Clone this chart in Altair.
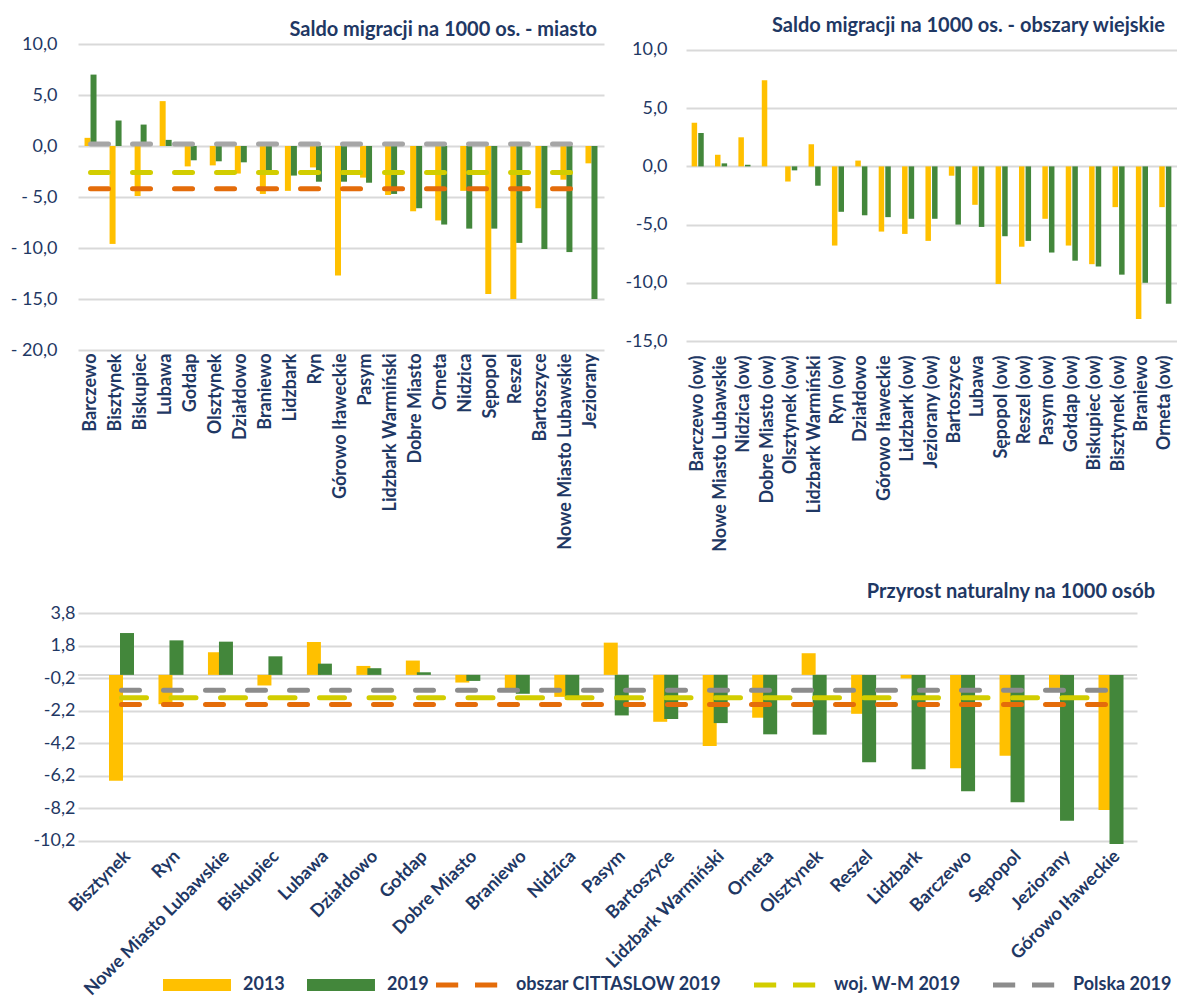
import altair as alt
import pandas as pd

NAVY = "#1F3864"
FONT = "Lato"
C2013 = "#FFC000"
C2019 = "#43873B"
CORANGE = "#E46C0A"
CYG = "#D2CD00"
CGRAY_T = "#A6A6A6"
CGRAY_B = "#8C8C8C"
GRID = "#D9D9D9"

# ---------------- data: Saldo migracji - miasto ----------------
cats_m = ["Barczewo", "Bisztynek", "Biskupiec", "Lubawa", "Gołdap", "Olsztynek",
          "Działdowo", "Braniewo", "Lidzbark", "Ryn", "Górowo Iławeckie", "Pasym",
          "Lidzbark Warmiński", "Dobre Miasto", "Orneta", "Nidzica", "Sępopol",
          "Reszel", "Bartoszyce", "Nowe Miasto Lubawskie", "Jeziorany"]
m2013 = [0.8, -9.6, -4.9, 4.4, -2.0, -1.9, -2.7, -4.7, -4.4, -2.1, -12.7, -3.1,
         -4.8, -6.4, -7.3, -4.4, -14.5, -15.0, -6.1, -3.3, -1.7]
m2019 = [7.0, 2.5, 2.1, 0.6, -1.4, -1.5, -1.6, -2.5, -2.9, -3.5, -3.5, -3.6,
         -4.7, -6.1, -7.7, -8.1, -8.1, -9.5, -10.1, -10.4, -15.0]
m_ref_names = ["obszar CITTASLOW 2019", "woj. W-M 2019", "Polska 2019"]
m_ref_vals = [-4.2, -2.6, 0.2]

# ---------------- data: Saldo migracji - obszary wiejskie ----------------
cats_w = ["Barczewo (ow)", "Nowe Miasto Lubawskie", "Nidzica (ow)", "Dobre Miasto (ow)",
          "Olsztynek (ow)", "Lidzbark Warmiński", "Ryn (ow)", "Działdowo",
          "Górowo Iławeckie", "Lidzbark (ow)", "Jeziorany (ow)", "Bartoszyce", "Lubawa",
          "Sępopol (ow)", "Reszel (ow)", "Pasym (ow)", "Gołdap (ow)", "Biskupiec (ow)",
          "Bisztynek (ow)", "Braniewo", "Orneta (ow)"]
w2013 = [3.75, 1.0, 2.5, 7.4, -1.3, 1.9, -6.8, 0.5, -5.6, -5.8, -6.4, -0.8, -3.3,
         -10.1, -6.9, -4.5, -6.8, -8.4, -3.5, -13.1, -3.5]
w2019 = [2.87, 0.26, 0.14, 0.0, -0.34, -1.66, -3.9, -4.2, -4.36, -4.5, -4.5, -5.0,
         -5.2, -6.0, -6.4, -7.4, -8.1, -8.6, -9.3, -10.0, -11.8]

# ---------------- data: Przyrost naturalny ----------------
cats_p = ["Bisztynek", "Ryn", "Nowe Miasto Lubawskie", "Biskupiec", "Lubawa", "Działdowo",
          "Gołdap", "Dobre Miasto", "Braniewo", "Nidzica", "Pasym", "Bartoszyce",
          "Lidzbark Warmiński", "Orneta", "Olsztynek", "Reszel", "Lidzbark", "Barczewo",
          "Sępopol", "Jeziorany", "Górowo Iławeckie"]
p2013 = [-6.5, -1.8, 1.39, -0.65, 2.02, 0.55, 0.88, -0.47, -1.0, -1.35, 1.98, -2.88,
         -4.37, -2.63, 1.33, -2.39, -0.22, -5.73, -4.96, -0.8, -8.29]
p2019 = [2.57, 2.12, 2.04, 1.14, 0.69, 0.41, 0.16, -0.37, -1.16, -1.4, -2.49, -2.71,
         -2.96, -3.65, -3.67, -5.37, -5.8, -7.14, -7.82, -8.96, -10.39]
p_ref_names = ["obszar CITTASLOW 2019", "woj. W-M 2019", "Polska 2019"]
p_ref_vals = [-1.82, -1.41, -0.94]
p_ticks = [3.8, 1.8, -0.2, -2.2, -4.2, -6.2, -8.2, -10.2]

YEARS = ["2013", "2019"]


def bars_df(cats, v13, v19):
    rows = []
    for c, a, b in zip(cats, v13, v19):
        rows.append({"cat": c, "series": "2013", "value": a})
        rows.append({"cat": c, "series": "2019", "value": b})
    return pd.DataFrame(rows)


def ref_df(cats, names, vals):
    rows = []
    for n, v in zip(names, vals):
        for c in cats:
            rows.append({"cat": c, "series": n, "value": v})
    return pd.DataFrame(rows)


def label_expr(spaced):
    sign = "'- '" if spaced else "'-'"
    return ("(datum.value < 0 ? " + sign + " : '') + "
            "replace(format(abs(datum.value), '.1f'), '.', ',')")


def x_enc(cats, angle, pad, outer=0.0, align=0.5):
    ax = dict(title=None, labelAngle=angle, domain=False, ticks=False, grid=False,
              labelFont=FONT, labelFontWeight="bold", labelFontSize=18,
              labelColor=NAVY, labelPadding=pad, labelLimit=500, labelOverlap=False)
    if angle == -45:
        ax["labelAlign"] = "right"
        ax["labelBaseline"] = "top"
    return alt.X("cat:N",
                 scale=alt.Scale(domain=cats, paddingInner=0, paddingOuter=outer,
                                 align=align),
                 axis=alt.Axis(**ax))


def y_enc(domain, values, spaced, pad, extent):
    return alt.Y("value:Q",
                 scale=alt.Scale(domain=domain, nice=False, zero=False),
                 axis=alt.Axis(title=None, values=values, tickCount=len(values) + 4,
                               labelExpr=label_expr(spaced),
                               grid=True, gridColor=GRID, gridWidth=2, domain=False,
                               ticks=False, labelFont=FONT, labelFontSize=18,
                               labelColor=NAVY, labelPadding=pad, labelOverlap=False,
                               minExtent=extent, maxExtent=extent))


def title(text, dx, offset):
    return alt.TitleParams(text, anchor="end", frame="group", font=FONT, fontSize=20,
                           fontWeight="bold", color=NAVY, dx=dx, offset=offset)


# ---------------- top-left ----------------
dm = bars_df(cats_m, m2013, m2019)
xm = x_enc(cats_m, -90, 3)
ym = y_enc([-20, 10], [-20, -15, -10, -5, 0, 5, 10], True, 21, 70)
tl_b13 = alt.Chart(dm).transform_filter(alt.datum.series == "2013").mark_bar(
    width=6, xOffset=-3, color=C2013).encode(x=xm, y=ym)
tl_b19 = alt.Chart(dm).transform_filter(alt.datum.series == "2019").mark_bar(
    width=6, xOffset=3, color=C2019).encode(x=xm, y=ym)
tl_lines = alt.Chart(ref_df(cats_m, m_ref_names, m_ref_vals)).mark_line(
    strokeWidth=5, strokeCap="round", strokeDash=[18, 24]).encode(
    x=xm, y=ym,
    stroke=alt.Stroke("series:N", scale=alt.Scale(domain=m_ref_names,
                                                  range=[CORANGE, CYG, CGRAY_T]),
                      legend=None),
    detail="series:N")
top_left = alt.layer(tl_b13, tl_b19, tl_lines).properties(
    width=526, height=306,
    title=title("Saldo migracji na 1000 os. - miasto", -7, -5))

# ---------------- top-right ----------------
dw = bars_df(cats_w, w2013, w2019)
xw = x_enc(cats_w, -90, 14)
yw = y_enc([-15, 10.515], [-15, -10, -5, 0, 5, 10], False, 19, 82)
tr_b13 = alt.Chart(dw).transform_filter(alt.datum.series == "2013").mark_bar(
    width=5.5, xOffset=-3.3, color=C2013).encode(x=xw, y=yw)
tr_b19 = alt.Chart(dw).transform_filter(alt.datum.series == "2019").mark_bar(
    width=5.5, xOffset=3.3, color=C2019).encode(x=xw, y=yw)
top_right = alt.layer(tr_b13, tr_b19).properties(
    width=491, height=297,
    title=title("Saldo migracji na 1000 os. - obszary wiejskie", -12, 5))

# ---------------- bottom ----------------
dp = bars_df(cats_p, p2013, p2019)
xp = x_enc(cats_p, -45, 6, outer=0.2024, align=0.937)
yp = y_enc([-10.20001, 3.80001], p_ticks, False, 3, 70)

bar_legend = alt.Legend(
    title=None, orient="none", legendX=82, legendY=363, direction="horizontal",
    symbolType="M-1,-1H10.33V1H-1Z", symbolSize=144, symbolStrokeWidth=0,
    labelFont=FONT, labelFontSize=18, labelFontWeight="bold", labelColor=NAVY,
    labelOffset=65, columnPadding=19, padding=0, labelLimit=400)

line_legend = alt.Legend(
    title=None, orient="none", legendX=352, legendY=363, direction="horizontal",
    symbolType="M-0.5,0H3.2M6,0H9.7", symbolSize=144, symbolStrokeWidth=5,
    symbolFillColor="transparent",
    labelFont=FONT, labelFontSize=18, labelFontWeight="bold", labelColor=NAVY,
    labelOffset=68, columnPadding=22, padding=0, labelLimit=400)

fill_p = alt.Color("series:N", scale=alt.Scale(domain=YEARS, range=[C2013, C2019]),
                   legend=bar_legend)
stroke_p = alt.Stroke("series:N",
                      scale=alt.Scale(domain=p_ref_names, range=[CORANGE, CYG, CGRAY_B]),
                      legend=line_legend)

b_b13 = alt.Chart(dp).transform_filter(alt.datum.series == "2013").mark_bar(
    width=14, xOffset=-5.5).encode(x=xp, y=yp, color=fill_p)
b_b19 = alt.Chart(dp).transform_filter(alt.datum.series == "2019").mark_bar(
    width=14, xOffset=5.5).encode(x=xp, y=yp, color=fill_p)
b_zero = alt.Chart(dp).mark_rule(color=GRID, strokeWidth=2).encode(y=alt.datum(0))
b_lines = alt.Chart(ref_df(cats_p, p_ref_names, p_ref_vals)).mark_line(
    strokeWidth=5, strokeCap="round").encode(
    x=xp, y=yp, stroke=stroke_p,
    strokeDash=alt.StrokeDash("series:N",
                              scale=alt.Scale(domain=p_ref_names,
                                              range=[[18, 24], [25, 24.5], [18, 24]]),
                              legend=None),
    detail="series:N")
bottom = alt.layer(b_zero, b_b13, b_b19, b_lines).properties(
    width=1059, height=228,
    title=title("Przyrost naturalny na 1000 osób", 18, 2))

top = alt.hconcat(top_left, top_right, spacing=0).resolve_scale(
    color="independent", stroke="independent")
chart = alt.vconcat(top, bottom, spacing=30).resolve_scale(
    color="independent", stroke="independent").properties(
    padding={"left": 0, "top": 7, "right": 0, "bottom": 0}
).configure(font=FONT).configure_view(stroke=None)

chart.save("out.html", embed_options={"renderer": "svg", "actions": False})
